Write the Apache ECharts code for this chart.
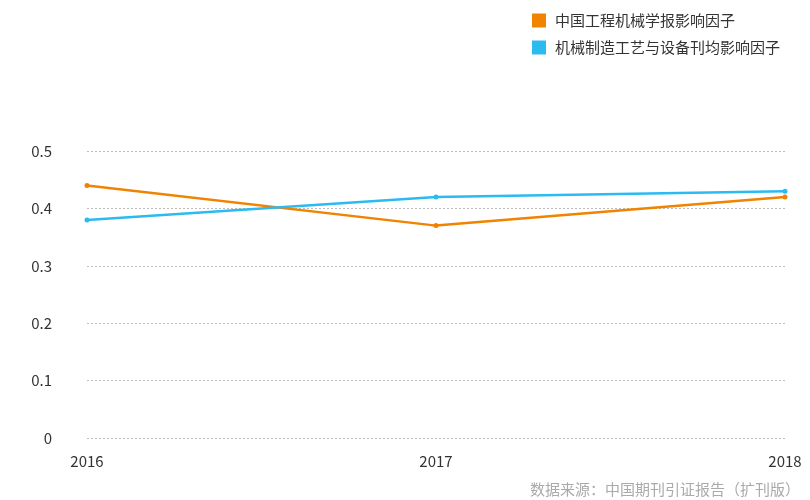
<!DOCTYPE html>
<html><head><meta charset="utf-8">
<script src="https://cdn.jsdelivr.net/npm/echarts@6/dist/echarts.min.js"></script>
<style>html,body{margin:0;padding:0;background:#fff}#c{width:810px;height:500px}</style>
</head><body><div id="c"></div>
<script>
const categories = ['2016', '2017', '2018'];
const seriesNames = ['中国工程机械学报影响因子', '机械制造工艺与设备刊均影响因子'];
const journalValues = [0.44, 0.37, 0.42];
const averageValues = [0.38, 0.42, 0.43];
const yTicks = [0, 0.1, 0.2, 0.3, 0.4, 0.5];
const sourceText = '数据来源：中国期刊引证报告（扩刊版）';

const font = '"Noto Sans CJK SC", "Microsoft YaHei", sans-serif';
const chart = echarts.init(document.getElementById('c'));
chart.setOption({
  animation: false,
  color: ['#f08300', '#2bbbf0'],
  textStyle: { fontFamily: font },
  legend: {
    orient: 'vertical', left: 527, top: 8, itemGap: 12,
    itemWidth: 14, itemHeight: 14, icon: 'rect',
    textStyle: { fontSize: 15, color: '#333', fontFamily: font, padding: [0, 0, 0, 4] },
    data: seriesNames
  },
  graphic: [{
    type: 'text', right: 10, top: 482,
    style: { text: sourceText, fill: '#aaa', fontSize: 15, fontFamily: font }
  }],
  grid: { left: 87, right: 25, top: 151, bottom: 62 },
  xAxis: {
    type: 'category', data: categories, boundaryGap: false,
    axisLine: { show: false }, axisTick: { show: false },
    axisLabel: { color: '#333', fontSize: 15, margin: 16, fontFamily: font }
  },
  yAxis: {
    type: 'value', min: yTicks[0], max: yTicks[yTicks.length - 1], interval: 0.1,
    axisLine: { show: false }, axisTick: { show: false },
    axisLabel: { color: '#333', fontSize: 15, margin: 35, fontFamily: font },
    splitLine: { lineStyle: { type: [2, 2], color: '#bbb' } }
  },
  series: [
    { name: seriesNames[0], type: 'line', data: journalValues, symbol: 'circle', symbolSize: 5, lineStyle: { width: 2.5 } },
    { name: seriesNames[1], type: 'line', data: averageValues, symbol: 'circle', symbolSize: 5, lineStyle: { width: 2.5 } }
  ]
});
</script></body></html>
